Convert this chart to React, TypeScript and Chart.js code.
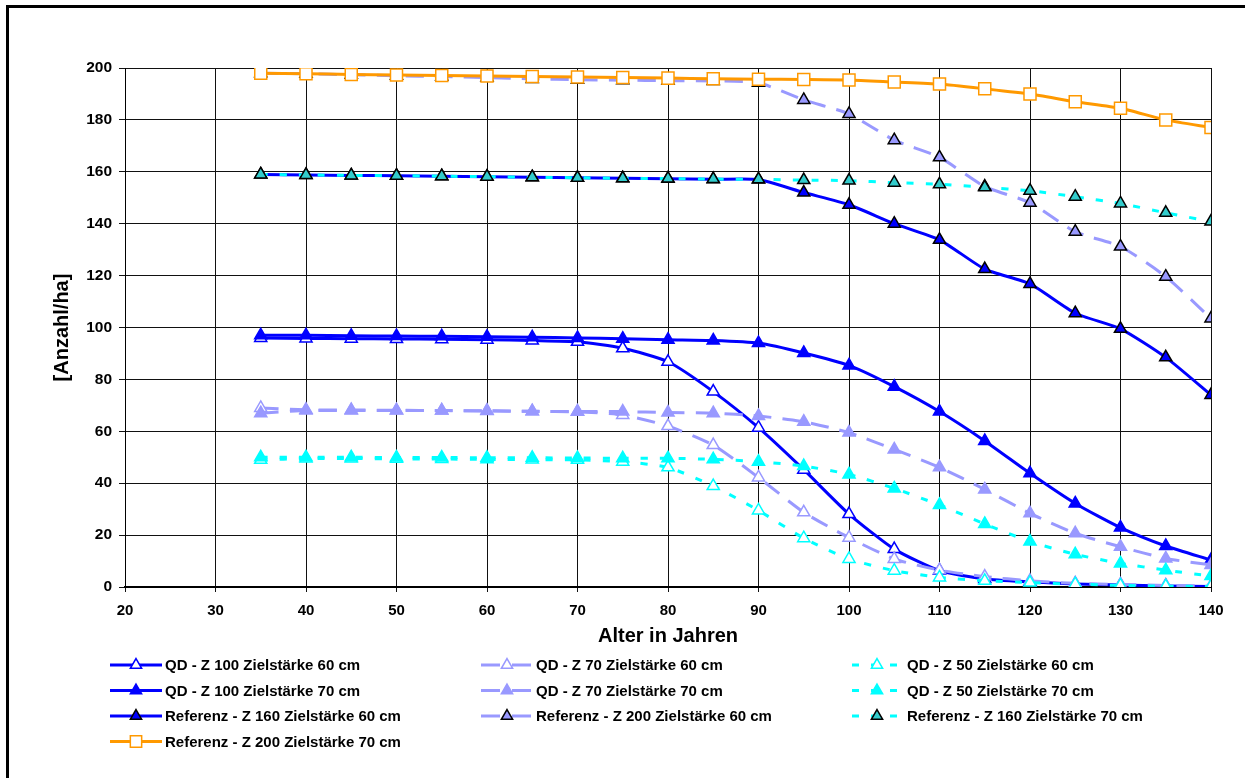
import React, { useEffect, useRef } from "react";
import { Chart, registerables } from "chart.js";
import { drawPoint } from "chart.js/helpers";

Chart.register(...registerables);

// Alter in Jahren
const ages = [35, 40, 45, 50, 55, 60, 65, 70, 75, 80, 85, 90, 95, 100, 105, 110, 115, 120, 125, 130, 135, 140];

// Stammzahlen [Anzahl/ha]
const qdZ100_60 = [96, 95.8, 95.7, 95.6, 95.5, 95.3, 95, 94.5, 92, 86.8, 75.3, 61.4, 45.2, 28.1, 14.6, 6.3, 3.1, 2.0, 1.2, 0.8, 0.4, 0.2];
const qdZ100_70 = [97, 97, 96.8, 96.7, 96.6, 96.4, 96.2, 96, 95.7, 95.3, 95, 94, 90.2, 85.4, 77.2, 67.6, 56.3, 43.8, 32.2, 22.9, 15.8, 10.4];
const refZ160_60 = [159, 158.8, 158.6, 158.5, 158.3, 158.1, 157.9, 157.7, 157.5, 157.3, 157.1, 157, 152, 147.3, 140, 133.8, 122.5, 116.8, 105.5, 99.5, 88.5, 74];
const qdZ70_60 = [69, 68.3, 68.2, 68.1, 68, 67.9, 67.7, 67.5, 66.3, 62, 54.7, 42.2, 28.8, 19, 10.8, 6.5, 4, 2.4, 1.4, 1, 0.6, 0.4];
const qdZ70_70 = [67, 68, 68, 68, 68, 67.8, 67.7, 67.6, 67.6, 67.2, 67, 65.9, 63.7, 59.5, 53, 46.1, 37.6, 28.4, 20.7, 15.5, 11, 8.5];
const refZ200_60 = [198, 197.8, 197.4, 197, 196.7, 196.3, 195.8, 195.5, 195.3, 195.1, 195, 194.3, 187.7, 182.3, 172.2, 165.6, 154.3, 148.1, 136.9, 131.2, 119.6, 103.5];
const qdZ50_60 = [49, 49.5, 49.5, 49.4, 49.3, 49.2, 49.1, 49, 48.3, 46.1, 38.9, 29.5, 18.8, 10.8, 6.3, 3.7, 2.4, 1.7, 1.1, 0.6, 0.3, 0.2];
const qdZ50_70 = [50, 50, 50, 49.9, 49.9, 49.8, 49.8, 49.7, 49.6, 49.6, 49.2, 48.3, 46.6, 43.4, 38, 31.6, 24.3, 17.5, 12.6, 9.1, 6.5, 4.2];
const refZ160_70 = [159, 158.8, 158.6, 158.5, 158.3, 158.1, 157.9, 157.7, 157.5, 157.4, 157.2, 157.1, 156.8, 156.6, 155.8, 155.2, 154, 152.7, 150.4, 147.8, 144.2, 140.8];
const refZ200_70 = [198, 197.8, 197.5, 197.3, 197.1, 196.9, 196.7, 196.5, 196.3, 196.1, 195.9, 195.7, 195.6, 195.4, 194.6, 193.8, 192, 190, 187, 184.5, 180, 177.1];

const BLUE = "#0000FF";
const LILAC = "#9999FF";
const CYAN = "#00FFFF";
const TEAL = "#33CCCC";
const ORANGE = "#FF9900";
const FONT = '"Liberation Sans", Arial, sans-serif';

const DASH_LONG = [18, 11];
const DASH_SHORT = [7, 12];

type SeriesDef = {
  label: string;
  values: number[];
  color: string;
  dash: number[];
  pointStyle: string;
  fill: string;
  edge: string;
  radius: number;
};

// Series in workbook order; later series are drawn on top of earlier ones
const series: SeriesDef[] = [
  { label: "QD - Z 100 Zielstärke 60 cm", values: qdZ100_60, color: BLUE, dash: [], pointStyle: "triangle", fill: "#FFFFFF", edge: BLUE, radius: 7 },
  { label: "QD - Z 70 Zielstärke 60 cm", values: qdZ70_60, color: LILAC, dash: DASH_LONG, pointStyle: "triangle", fill: "#FFFFFF", edge: LILAC, radius: 7 },
  { label: "QD - Z 50 Zielstärke 60 cm", values: qdZ50_60, color: CYAN, dash: DASH_SHORT, pointStyle: "triangle", fill: "#FFFFFF", edge: CYAN, radius: 7 },
  { label: "QD - Z 100 Zielstärke 70 cm", values: qdZ100_70, color: BLUE, dash: [], pointStyle: "triangle", fill: BLUE, edge: BLUE, radius: 7 },
  { label: "QD - Z 70 Zielstärke 70 cm", values: qdZ70_70, color: LILAC, dash: DASH_LONG, pointStyle: "triangle", fill: LILAC, edge: LILAC, radius: 7 },
  { label: "QD - Z 50 Zielstärke 70 cm", values: qdZ50_70, color: CYAN, dash: DASH_SHORT, pointStyle: "triangle", fill: CYAN, edge: CYAN, radius: 7 },
  { label: "Referenz - Z 160 Zielstärke 60 cm", values: refZ160_60, color: BLUE, dash: [], pointStyle: "triangle", fill: BLUE, edge: "#000000", radius: 7 },
  { label: "Referenz - Z 200 Zielstärke 60 cm", values: refZ200_60, color: LILAC, dash: DASH_LONG, pointStyle: "triangle", fill: LILAC, edge: "#000000", radius: 7 },
  { label: "Referenz - Z 160 Zielstärke 70 cm", values: refZ160_70, color: CYAN, dash: DASH_SHORT, pointStyle: "triangle", fill: TEAL, edge: "#000000", radius: 7 },
  { label: "Referenz - Z 200 Zielstärke 70 cm", values: refZ200_70, color: ORANGE, dash: [], pointStyle: "rect", fill: "#FFFFFF", edge: ORANGE, radius: 8.5 },
];

// White page with the black frame around the chart object
const framePlugin = {
  id: "frame",
  beforeDraw(chart: any) {
    const { ctx, width, height } = chart;
    ctx.save();
    ctx.fillStyle = "#FFFFFF";
    ctx.fillRect(0, 0, width, height);
    ctx.fillStyle = "#000000";
    ctx.fillRect(6, 5, width - 6, 3);
    ctx.fillRect(6, 5, 3, height - 5);
    ctx.restore();
  },
};

// Three-column legend below the axis title
const legendPlugin = {
  id: "gridLegend",
  afterDraw(chart: any) {
    const ctx = chart.ctx;
    const cols = [110, 481, 852];
    const rows = [665, 690.5, 716, 741.5];
    series.forEach((s, i) => {
      const x = cols[i % 3];
      const y = rows[Math.floor(i / 3)];
      let len = 52;
      let dash: number[] = [];
      if (s.dash === DASH_SHORT) {
        len = 45;
        dash = [7, 12];
      } else if (s.dash === DASH_LONG) {
        len = 51;
        dash = [19, 12];
      }
      const mx = s.dash === DASH_SHORT ? x + 25 : x + 26;
      ctx.save();
      ctx.strokeStyle = s.color;
      ctx.lineWidth = 3;
      ctx.setLineDash(dash);
      ctx.beginPath();
      ctx.moveTo(x, y);
      ctx.lineTo(x + len, y);
      ctx.stroke();
      ctx.setLineDash([]);
      ctx.fillStyle = s.fill;
      ctx.strokeStyle = s.edge;
      ctx.lineWidth = 1.5;
      drawPoint(ctx, { pointStyle: s.pointStyle, radius: s.radius - 0.5, rotation: 0, borderWidth: 1.5 } as any, mx, y);
      ctx.fillStyle = "#000000";
      ctx.font = `bold 15px ${FONT}`;
      ctx.textAlign = "left";
      ctx.textBaseline = "middle";
      ctx.fillText(s.label, x + 55, y + 1);
      ctx.restore();
    });
  },
};

export default function App() {
  const canvasRef = useRef<HTMLCanvasElement | null>(null);

  useEffect(() => {
    if (!canvasRef.current) return;
    const datasets = series.map((s, i) => ({
      label: s.label,
      data: ages.map((a, k) => ({ x: a, y: s.values[k] })),
      borderColor: s.color,
      borderWidth: 3,
      borderDash: s.dash,
      backgroundColor: s.fill,
      pointStyle: s.pointStyle,
      pointRadius: s.radius,
      pointBackgroundColor: s.fill,
      pointBorderColor: s.edge,
      pointBorderWidth: 1.5,
      tension: 0.2,
      fill: false,
      order: series.length - i,
    }));

    const chart = new Chart(canvasRef.current, {
      type: "line",
      data: { datasets },
      plugins: [framePlugin, legendPlugin],
      options: {
        animation: false,
        responsive: false,
        events: [],
        layout: { padding: { left: 0, top: 68, right: 34, bottom: 0 } },
        plugins: { legend: { display: false }, tooltip: { enabled: false } },
        scales: {
          x: {
            type: "linear",
            min: 20,
            max: 140,
            ticks: { stepSize: 10, color: "#000", font: { family: FONT, size: 15, weight: "bold" }, padding: 10, maxRotation: 0 },
            grid: { color: "#111", lineWidth: 1, tickLength: 5, tickColor: "#111" },
            border: { color: "#000", width: 2 },
            title: {
              display: true,
              text: "Alter in Jahren",
              color: "#000",
              font: { family: FONT, size: 20, weight: "bold" },
              padding: { top: 0, bottom: 130 },
            },
            afterFit: (scale: any) => {
              scale.height = 191;
            },
          },
          y: {
            type: "linear",
            min: 0,
            max: 200,
            ticks: { stepSize: 20, color: "#000", font: { family: FONT, size: 15.5, weight: "bold" }, padding: 7 },
            grid: { color: "#111", lineWidth: 1, tickLength: 6, tickColor: "#111" },
            border: { color: "#000", width: 1 },
            title: {
              display: true,
              text: "[Anzahl/ha]",
              color: "#000",
              font: { family: FONT, size: 20, weight: "bold" },
              padding: { top: 50, bottom: 0 },
            },
            afterFit: (scale: any) => {
              scale.width = 125;
            },
          },
        },
      } as any,
    });
    return () => chart.destroy();
  }, []);

  return (
    <div style={{ position: "absolute", left: 0, top: 0, width: 1245, height: 778 }}>
      <canvas ref={canvasRef} width={1245} height={778} style={{ display: "block" }} />
    </div>
  );
}
